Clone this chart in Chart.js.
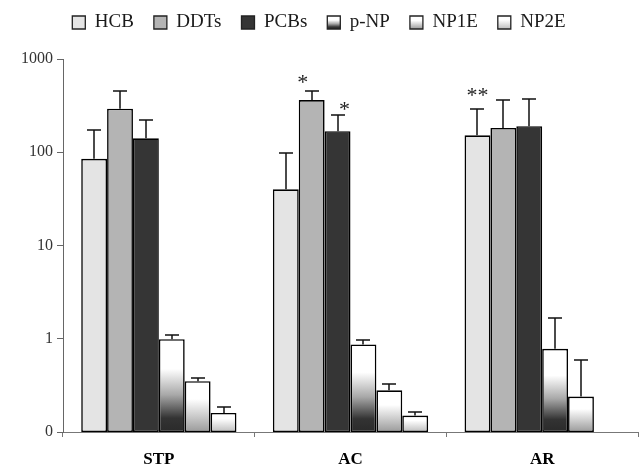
<!DOCTYPE html>
<html>
<head>
<meta charset="utf-8">
<script src="https://cdn.jsdelivr.net/npm/chart.js@4.4.1/dist/chart.umd.min.js"></script>
<style>
  html, body { margin: 0; padding: 0; background: #fff; }
  #wrap { width: 639px; height: 469px; }
</style>
</head>
<body>
<div id="wrap"><canvas id="chart"></canvas></div>
<script>
const sites = ['STP', 'AC', 'AR'];
const seriesNames = ['HCB', 'DDTs', 'PCBs', 'p-NP', 'NP1E', 'NP2E'];

// means per site (STP, AC, AR)
const hcb  = [85, 40, 152];
const ddts = [293, 363, 182];
const pcbs = [141, 168, 190];
const pNP  = [0.99, 0.87, 0.78];
const np1e = [0.35, 0.28, 0.24];
const np2e = [0.16, 0.15, null];

// top of the error bars
const hcbHi  = [172, 98, 289];
const ddtsHi = [451, 454, 361];
const pcbsHi = [222, 249, 372];
const pNPHi  = [1.10, 0.96, 1.67];
const np1eHi = [0.38, 0.33, 0.59];
const np2eHi = [0.185, 0.163, null];

const yTicks = [0.1, 1, 10, 100, 1000];
const yTickLabels = ['0', '1', '10', '100', '1000'];

// significance marks: [site, series, text]
const marks = [['AC', 'DDTs', '*'], ['AC', 'PCBs', '*'], ['AR', 'HCB', '**']];
const markDx = [-9, 7, 0];
const markDy = [-14, -11, -19];

const serif = '"Liberation Serif", "Times New Roman", serif';

const shades = {
    'p-NP': [[0, '#ffffff'], [0.32, '#ffffff'], [0.6, '#a8a8a8'], [0.85, '#333333'], [1, '#2a2a2a']],
    'NP1E': [[0, '#ffffff'], [0.35, '#ffffff'], [1, '#9a9a9a']],
    'NP2E': [[0, '#ffffff'], [0.3, '#ffffff'], [1, '#bdbdbd']]
};

function barGradient(stops) {
    return function(ctx) {
        const chart = ctx.chart;
        const area = chart.chartArea;
        if (!area || ctx.type !== 'data' || ctx.raw == null) return '#ffffff';
        const top = chart.scales.y.getPixelForValue(ctx.raw);
        const g = chart.ctx.createLinearGradient(0, top, 0, area.bottom);
        stops.forEach(s => g.addColorStop(s[0], s[1]));
        return g;
    };
}

function legendGradient(chart, stops) {
    const g = chart.ctx.createLinearGradient(0, 16, 0, 29);
    stops.forEach(s => g.addColorStop(s[0], s[1]));
    return g;
}

const plainColors = { 'HCB': '#e4e4e4', 'DDTs': '#b4b4b4', 'PCBs': '#353535' };
const values = [hcb, ddts, pcbs, pNP, np1e, np2e];
const highs = [hcbHi, ddtsHi, pcbsHi, pNPHi, np1eHi, np2eHi];

const datasets = seriesNames.map((name, i) => ({
    label: name,
    data: values[i],
    hi: highs[i],
    backgroundColor: shades[name] ? barGradient(shades[name]) : plainColors[name],
    borderColor: '#000',
    borderWidth: 1.6,
    borderSkipped: false,
    categoryPercentage: 0.81,
    barPercentage: 1
}));

// keep legend height fixed so the plot top lands where it should
const legendHeight = {
    id: 'legendHeight',
    beforeInit(chart) {
        const fit = chart.legend.fit;
        chart.legend.fit = function() {
            fit.call(this);
            this.height = 66;
        };
    }
};

const errorBars = {
    id: 'errorBars',
    afterDatasetsDraw(chart) {
        const c = chart.ctx;
        const y = chart.scales.y;
        c.save();
        c.strokeStyle = '#111';
        c.lineWidth = 1.5;
        chart.data.datasets.forEach((ds, i) => {
            chart.getDatasetMeta(i).data.forEach((bar, j) => {
                const hi = ds.hi[j];
                if (hi == null || ds.data[j] == null) return;
                const top = Math.round(y.getPixelForValue(hi));
                const x = Math.round(bar.x);
                c.beginPath();
                c.moveTo(x, bar.y);
                c.lineTo(x, top);
                c.moveTo(x - 7, top);
                c.lineTo(x + 7, top);
                c.stroke();
            });
        });

        c.fillStyle = '#222';
        c.font = '22px ' + serif;
        c.textAlign = 'center';
        c.textBaseline = 'alphabetic';
        marks.forEach((m, k) => {
            const i = seriesNames.indexOf(m[1]);
            const j = sites.indexOf(m[0]);
            const bar = chart.getDatasetMeta(i).data[j];
            const top = y.getPixelForValue(chart.data.datasets[i].hi[j]);
            c.fillText(m[2], bar.x + markDx[k], top + markDy[k] + 12);
        });
        c.restore();
    }
};

const ctx = document.getElementById('chart').getContext('2d');
const chart = new Chart(ctx, {
    type: 'bar',
    data: { labels: sites, datasets: datasets },
    plugins: [legendHeight, errorBars],
    options: {
        responsive: true,
        maintainAspectRatio: false,
        animation: false,
        layout: { padding: { top: -7, right: 1, left: 0, bottom: 0 } },
        plugins: {
            legend: {
                position: 'top',
                labels: {
                    boxWidth: 13,
                    boxHeight: 13,
                    padding: 20,
                    color: '#1a1a1a',
                    font: { family: serif, size: 19 },
                    generateLabels: function(chart) {
                        return chart.data.datasets.map((ds, i) => ({
                            text: ds.label,
                            fillStyle: shades[ds.label] ? legendGradient(chart, shades[ds.label]) : plainColors[ds.label],
                            strokeStyle: '#222',
                            lineWidth: 1.3,
                            fontColor: '#1a1a1a',
                            hidden: false,
                            datasetIndex: i
                        }));
                    }
                }
            },
            tooltip: { enabled: false }
        },
        scales: {
            x: {
                grid: { display: true, drawOnChartArea: false, offset: true, tickLength: 5, color: '#777' },
                border: { color: '#777', width: 1 },
                ticks: { color: '#000', padding: 12, font: { family: serif, size: 17, weight: 'bold' } },
                afterFit: function(scale) { scale.height = 37; }
            },
            y: {
                type: 'logarithmic',
                min: 0.1,
                max: 1000,
                grid: { display: true, drawOnChartArea: false, tickLength: 6, color: '#666' },
                border: { color: '#666', width: 1 },
                afterBuildTicks: function(scale) {
                    scale.ticks = yTicks.map(v => ({ value: v }));
                },
                ticks: {
                    color: '#333',
                    padding: 4,
                    font: { family: serif, size: 16 },
                    callback: function(value) {
                        const k = yTicks.indexOf(value);
                        return k >= 0 ? yTickLabels[k] : '';
                    }
                },
                afterFit: function(scale) { scale.width = 63; }
            }
        }
    }
});
</script>
</body>
</html>
